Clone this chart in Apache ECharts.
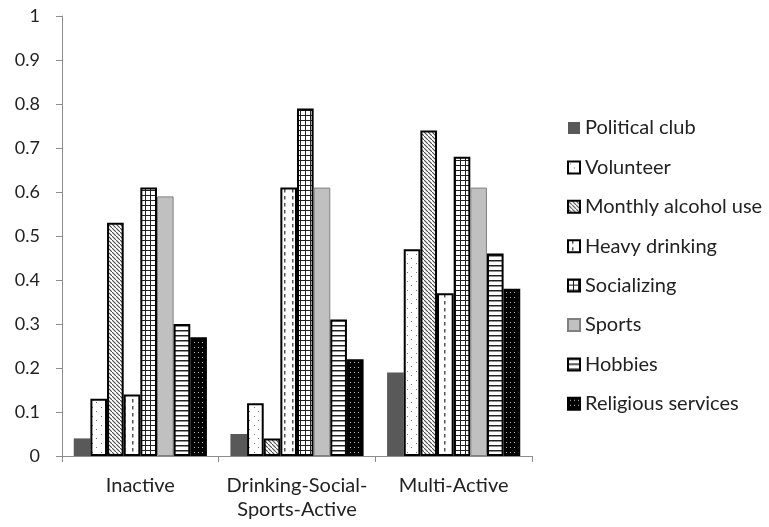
<!DOCTYPE html>
<html><head><meta charset="utf-8">
<script src="https://cdn.jsdelivr.net/npm/echarts@6/dist/echarts.min.js"></script>
<style>html,body{margin:0;padding:0;background:#fff}#c{width:769px;height:527px}</style>
</head><body><div id="c"></div>
<script>
const categories = ['Inactive', 'Drinking-Social-\nSports-Active', 'Multi-Active'];
const seriesNames = ['Political club','Volunteer','Monthly alcohol use','Heavy drinking','Socializing','Sports','Hobbies','Religious services'];
const politicalClub = [0.04, 0.05, 0.19];
const volunteer = [0.13, 0.12, 0.47];
const monthlyAlcohol = [0.53, 0.04, 0.74];
const heavyDrinking = [0.14, 0.61, 0.37];
const socializing = [0.61, 0.79, 0.68];
const sports = [0.59, 0.61, 0.61];
const hobbies = [0.30, 0.31, 0.46];
const religious = [0.27, 0.22, 0.38];
const yTicks = [0, 0.1, 0.2, 0.3, 0.4, 0.5, 0.6, 0.7, 0.8, 0.9, 1];

function pat(w, h, bg, draw) {
  const c = document.createElement('canvas');
  c.width = w; c.height = h;
  const g = c.getContext('2d');
  g.fillStyle = bg; g.fillRect(0, 0, w, h);
  draw(g);
  return { image: c, repeat: 'repeat' };
}
const P = {
  volunteer: pat(9, 9, '#fff', g => { g.fillStyle = '#777'; g.fillRect(2, 2, 1, 1); g.fillRect(6, 6, 1, 1); }),
  alcohol: pat(4, 4, '#fff', g => { g.fillStyle = '#555'; for (let i = 0; i < 4; i++) { g.fillRect(i, i, 1.3, 1.3); } }),
  heavy: pat(8, 7, '#fff', g => { g.fillStyle = '#555'; g.fillRect(4, 0, 1.5, 3.5); }),
  social: pat(5, 5, '#fff', g => { g.fillStyle = '#222'; g.fillRect(0, 0, 5, 1); g.fillRect(0, 0, 1, 5); }),
  hobbies: pat(4, 5, '#fff', g => { g.fillStyle = '#222'; g.fillRect(0, 0, 4, 1.5); }),
  religious: pat(4, 5, '#000', g => { g.fillStyle = '#bbb'; g.fillRect(2, 2, 1, 1); })
};
const dataArr = [politicalClub, volunteer, monthlyAlcohol, heavyDrinking, socializing, sports, hobbies, religious];
const styles = [
  { color: '#595959', borderWidth: 0 },
  { color: P.volunteer, borderColor: '#000', borderWidth: 2 },
  { color: P.alcohol, borderColor: '#000', borderWidth: 2 },
  { color: P.heavy, borderColor: '#000', borderWidth: 2 },
  { color: P.social, borderColor: '#000', borderWidth: 2 },
  { color: '#c0c0c0', borderColor: '#808080', borderWidth: 1 },
  { color: P.hobbies, borderColor: '#000', borderWidth: 2 },
  { color: P.religious, borderColor: '#000', borderWidth: 2 }
];
const font = 'Lato, "Open Sans", sans-serif';
const chart = echarts.init(document.getElementById('c'), null, { renderer: 'canvas' });
chart.setOption({
  animation: false,
  backgroundColor: '#fff',
  grid: { left: 62, top: 16, right: 237, bottom: 71 },
  legend: {
    orient: 'vertical', left: 562, top: 113,
    itemWidth: 12, itemHeight: 12, itemGap: 19.4,
    icon: 'rect',
    textStyle: { fontFamily: font, fontSize: 20, color: '#222', height: 20, lineHeight: 20 },
    data: seriesNames
  },
  xAxis: {
    type: 'category', data: categories,
    axisLine: { lineStyle: { color: '#8c8c8c' } },
    axisTick: { show: true, length: 6, lineStyle: { color: '#8c8c8c' } },
    axisLabel: { interval: 0, fontFamily: font, fontSize: 20, color: '#222', margin: 18, lineHeight: 24 }
  },
  yAxis: {
    type: 'value', min: 0, max: 1, interval: 0.1,
    splitLine: { show: false },
    axisLine: { show: true, lineStyle: { color: '#8c8c8c' } },
    axisTick: { show: true, length: 6, lineStyle: { color: '#8c8c8c' } },
    axisLabel: { fontFamily: font, fontSize: 18, color: '#222', margin: 22,
      formatter: v => { const t = yTicks.find(x => Math.abs(x - v) < 1e-9); return t === undefined ? '' : String(t); } }
  },
  series: seriesNames.map((n, i) => ({
    name: n, type: 'bar', data: dataArr[i],
    barGap: '0%', barCategoryGap: '15%',
    itemStyle: styles[i]
  }))
});
</script></body></html>
